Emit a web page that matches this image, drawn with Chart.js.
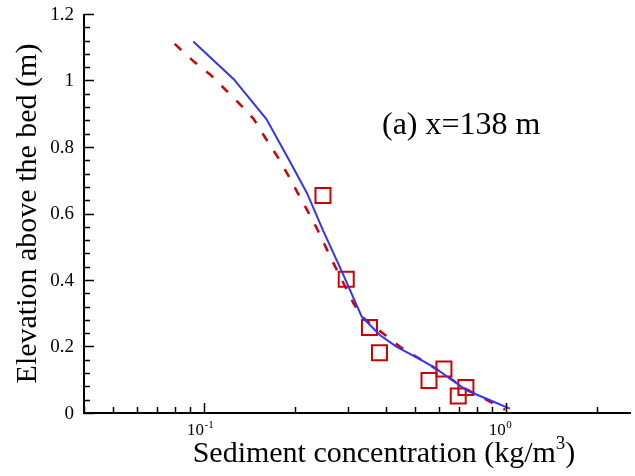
<!DOCTYPE html>
<html>
<head>
<meta charset="utf-8">
<script src="https://cdn.jsdelivr.net/npm/chart.js@4.4.1/dist/chart.umd.min.js"></script>
<style>
  html, body { margin: 0; padding: 0; background: #fff; }
  canvas { display: block; }
</style>
</head>
<body>
<canvas id="perfil" width="635" height="476"></canvas>
<script>
// modelo 1 (linea continua azul)
const concModelo1 = [0.0921, 0.1254, 0.1609, 0.1907, 0.2194, 0.2470, 0.2863, 0.3334, 0.3833, 0.4351, 0.5130, 0.5750, 0.7415, 0.8633, 1.031];
const elevModelo1 = [1.117, 1.004, 0.884, 0.763, 0.661, 0.552, 0.425, 0.289, 0.234, 0.199, 0.164, 0.139, 0.068, 0.043, 0.013];

// modelo 2 (linea discontinua roja)
const concModelo2 = [0.0799, 0.0925, 0.1051, 0.1178, 0.1320, 0.1461, 0.1597, 0.1737, 0.1884, 0.2032, 0.2194, 0.2366, 0.2686, 0.3128, 0.3334, 0.4462, 0.5750, 0.7415, 0.995];
const elevModelo2 = [1.110, 1.057, 1.017, 0.972, 0.927, 0.884, 0.827, 0.776, 0.721, 0.666, 0.611, 0.555, 0.450, 0.330, 0.289, 0.199, 0.138, 0.071, 0.010];

// mediciones
const concMedida = [0.2478, 0.2959, 0.3533, 0.3814, 0.6237, 0.5565, 0.7376, 0.6956];
const elevMedida = [0.654, 0.402, 0.257, 0.181, 0.132, 0.098, 0.0765, 0.051];

const ticksY = [0, 0.2, 0.4, 0.6, 0.8, 1, 1.2];
const etiquetasY = ['0', '0.2', '0.4', '0.6', '0.8', '1', '1.2'];
const decadasX = [0.1, 1];
const exponentesX = ['-1', '0'];

const serif = '"Liberation Serif", "Times New Roman", serif';

const puntos = (xs, ys) => xs.map((x, i) => ({ x: x, y: ys[i] }));

const ejes = {
  id: 'ejes',
  afterDraw(chart) {
    const ctx = chart.ctx;
    const sx = chart.scales.x;
    const sy = chart.scales.y;
    const a = chart.chartArea;
    ctx.save();
    ctx.strokeStyle = '#000';
    ctx.fillStyle = '#000';

    // lineas de los ejes
    ctx.lineWidth = 2;
    ctx.beginPath();
    ctx.moveTo(a.left, a.top);
    ctx.lineTo(a.left, a.bottom);
    ctx.lineTo(a.right, a.bottom);
    ctx.stroke();

    // marcas del eje y (hacia dentro)
    ctx.lineWidth = 1.5;
    ctx.beginPath();
    for (let i = 0; i <= 30; i++) {
      const v = i * 0.04;
      const py = Math.round(sy.getPixelForValue(v)) + 0.5;
      const largo = i % 5 === 0 ? 10 : 6;
      ctx.moveTo(a.left, py);
      ctx.lineTo(a.left + largo, py);
    }
    // marcas del eje x (logaritmico)
    for (let d = 0.01; d <= 10; d *= 10) {
      for (let m = 1; m <= 9; m++) {
        const v = d * m;
        if (v < sx.min || v > sx.max) continue;
        const px = Math.round(sx.getPixelForValue(v)) + 0.5;
        const largo = m === 1 ? 10 : 6;
        ctx.moveTo(px, a.bottom);
        ctx.lineTo(px, a.bottom - largo);
      }
    }
    ctx.stroke();

    // etiquetas del eje y
    ctx.font = '19px ' + serif;
    ctx.textAlign = 'right';
    ctx.textBaseline = 'middle';
    ticksY.forEach((v, i) => {
      ctx.fillText(etiquetasY[i], a.left - 10, sy.getPixelForValue(v) + 1);
    });

    // etiquetas del eje x: 10 con exponente
    ctx.textBaseline = 'alphabetic';
    decadasX.forEach((v, i) => {
      const px = sx.getPixelForValue(v);
      ctx.font = '17px ' + serif;
      ctx.textAlign = 'right';
      ctx.fillText('10', px, a.bottom + 22);
      ctx.font = '11px ' + serif;
      ctx.textAlign = 'left';
      ctx.fillText(exponentesX[i], px + 0.5, a.bottom + 15);
    });

    // titulo eje x
    const base = 'Sediment concentration (kg/m';
    ctx.font = '30px ' + serif;
    const w1 = ctx.measureText(base).width;
    ctx.font = '19px ' + serif;
    const w2 = ctx.measureText('3').width;
    ctx.font = '30px ' + serif;
    const w3 = ctx.measureText(')').width;
    const x0 = 384 - (w1 + w2 + w3) / 2;
    ctx.textAlign = 'left';
    ctx.fillText(base, x0, 462);
    ctx.font = '19px ' + serif;
    ctx.fillText('3', x0 + w1, 449);
    ctx.font = '30px ' + serif;
    ctx.fillText(')', x0 + w1 + w2, 462);

    // titulo eje y
    ctx.save();
    ctx.translate(36, (a.top + a.bottom) / 2);
    ctx.rotate(-Math.PI / 2);
    ctx.textAlign = 'center';
    ctx.fillText('Elevation above the bed (m)', 0, 0);
    ctx.restore();

    // rotulo de la seccion
    ctx.font = '32px ' + serif;
    ctx.textAlign = 'left';
    ctx.fillText('(a) x=138 m', 382, 134);

    ctx.restore();
  }
};

new Chart(document.getElementById('perfil').getContext('2d'), {
  type: 'line',
  data: {
    datasets: [
      {
        label: 'Modelo 1',
        data: puntos(concModelo1, elevModelo1),
        borderColor: '#3333ff',
        borderWidth: 2,
        pointRadius: 0,
        tension: 0,
        fill: false
      },
      {
        label: 'Modelo 2',
        data: puntos(concModelo2, elevModelo2),
        borderColor: '#d40000',
        borderWidth: 2.5,
        borderDash: [9, 12],
        pointRadius: 0,
        tension: 0,
        fill: false
      },
      {
        label: 'Medido',
        data: puntos(concMedida, elevMedida),
        showLine: false,
        pointStyle: 'rect',
        pointRadius: 10.6,
        pointBorderWidth: 2,
        pointBorderColor: '#d00000',
        pointBackgroundColor: 'rgba(0,0,0,0)'
      }
    ]
  },
  options: {
    responsive: false,
    animation: false,
    layout: { autoPadding: false, padding: { top: 14, right: 4, left: 0, bottom: 0 } },
    plugins: { legend: { display: false }, tooltip: { enabled: false } },
    scales: {
      x: {
        type: 'logarithmic',
        min: 0.04,
        max: 2.6,
        grid: { display: false },
        border: { display: false },
        ticks: { display: false },
        afterFit: (s) => { s.height = 63; s.paddingLeft = 0; s.paddingRight = 0; }
      },
      y: {
        min: 0,
        max: 1.2,
        grid: { display: false },
        border: { display: false },
        ticks: { display: false },
        afterFit: (s) => { s.width = 84; s.paddingTop = 0; s.paddingBottom = 0; }
      }
    }
  },
  plugins: [ejes]
});
</script>
</body>
</html>
